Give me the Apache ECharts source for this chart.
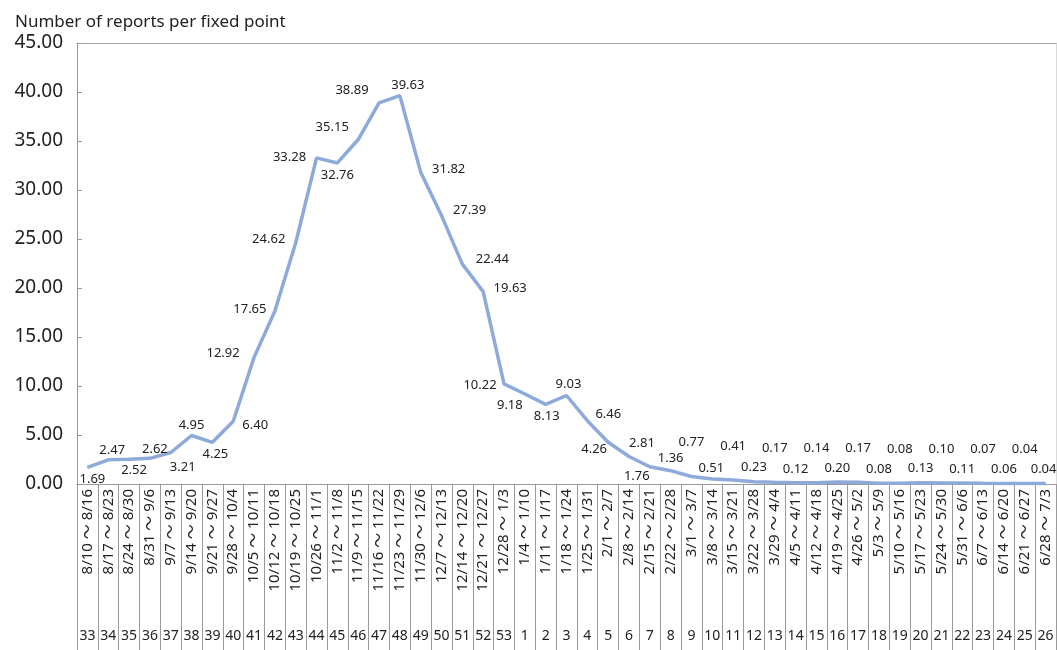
<!DOCTYPE html>
<html>
<head>
<meta charset="utf-8">
<script src="https://cdn.jsdelivr.net/npm/echarts@6/dist/echarts.min.js"></script>
<style>
  html, body { margin: 0; padding: 0; background: #fff; }
  #main { width: 1057px; height: 650px; }
</style>
</head>
<body>
<div id="main"></div>
<script>
// 週の期間（カテゴリ）
var periods = [
  '8/10 ～ 8/16', '8/17 ～ 8/23', '8/24 ～ 8/30', '8/31 ～ 9/6', '9/7 ～ 9/13',
  '9/14 ～ 9/20', '9/21 ～ 9/27', '9/28 ～ 10/4', '10/5 ～ 10/11', '10/12 ～ 10/18',
  '10/19 ～ 10/25', '10/26 ～ 11/1', '11/2 ～ 11/8', '11/9 ～ 11/15', '11/16 ～ 11/22',
  '11/23 ～ 11/29', '11/30 ～ 12/6', '12/7 ～ 12/13', '12/14 ～ 12/20', '12/21 ～ 12/27',
  '12/28 ～ 1/3', '1/4 ～ 1/10', '1/11 ～ 1/17', '1/18 ～ 1/24', '1/25 ～ 1/31',
  '2/1 ～ 2/7', '2/8 ～ 2/14', '2/15 ～ 2/21', '2/22 ～ 2/28', '3/1 ～ 3/7',
  '3/8 ～ 3/14', '3/15 ～ 3/21', '3/22 ～ 3/28', '3/29 ～ 4/4', '4/5 ～ 4/11',
  '4/12 ～ 4/18', '4/19 ～ 4/25', '4/26 ～ 5/2', '5/3 ～ 5/9', '5/10 ～ 5/16',
  '5/17 ～ 5/23', '5/24 ～ 5/30', '5/31 ～ 6/6', '6/7 ～ 6/13', '6/14 ～ 6/20',
  '6/21 ～ 6/27', '6/28 ～ 7/3'
];

// 週番号
var weeks = [
  '33', '34', '35', '36', '37', '38', '39', '40', '41', '42', '43', '44', '45', '46',
  '47', '48', '49', '50', '51', '52', '53', '1', '2', '3', '4', '5', '6', '7', '8',
  '9', '10', '11', '12', '13', '14', '15', '16', '17', '18', '19', '20', '21', '22',
  '23', '24', '25', '26'
];

// 定点当たり報告数
var reports = [
  1.69, 2.47, 2.52, 2.62, 3.21, 4.95, 4.25, 6.40, 12.92, 17.65, 24.62, 33.28, 32.76,
  35.15, 38.89, 39.63, 31.82, 27.39, 22.44, 19.63, 10.22, 9.18, 8.13, 9.03, 6.46,
  4.26, 2.81, 1.76, 1.36, 0.77, 0.51, 0.41, 0.23, 0.17, 0.12, 0.14, 0.20, 0.17,
  0.08, 0.08, 0.13, 0.10, 0.11, 0.07, 0.06, 0.04, 0.04
];

// y軸の目盛
var yMin = 0, yMax = 45, yStep = 5;

// ラベルのずらし量 [dx, dy]（点からの相対）
var labelShift = [
  [5, 12], [4, -9], [5, 11], [5, -9], [12, 15], [0, -10], [3, 12], [22, 4],
  [-31, -4], [-25, -2], [-27, -3], [-27, -1], [0, 12], [-26, -12], [-27, -13], [8, -10],
  [28, -3], [28, -5], [30, -5], [27, -3], [-24, 1], [-15, 11], [1, 12], [2, -11],
  [21, -6], [-14, 7], [13, -13], [-13, 10], [0, -12], [0, -34], [-1, -11]
];
for (var k = labelShift.length; k < reports.length; k++) {
  labelShift.push(k % 2 === 1 ? [0, -34] : [0, -14]);
}
// 右端は少し内側へ
labelShift[reports.length - 1] = [-2, -14];

var FONT = '"Noto Sans", "Noto Sans CJK JP", sans-serif';

var myChart = echarts.init(document.getElementById('main'));

myChart.setOption({
  animation: false,
  textStyle: { fontFamily: FONT },
  title: {
    text: 'Number of reports per fixed point',
    left: 10,
    top: 9,
    textStyle: { fontFamily: FONT, fontSize: 17, fontWeight: 'normal', color: '#222' }
  },
  grid: { left: 77, right: 1, top: 43, bottom: 166 },
  xAxis: [
    {
      type: 'category',
      data: periods,
      position: 'bottom',
      axisLine: { lineStyle: { color: '#9a9a9a', width: 1 } },
      axisTick: { show: true, length: 166, lineStyle: { color: '#9a9a9a' } },
      axisLabel: {
        interval: 0, rotate: 90, margin: 5,
        fontFamily: FONT, fontSize: 15, color: '#222'
      },
      splitLine: { show: false }
    },
    {
      type: 'category',
      data: weeks,
      position: 'bottom',
      axisLine: { show: false },
      axisTick: { show: false },
      axisLabel: { interval: 0, margin: 145, fontFamily: FONT, fontSize: 14, color: '#222' },
      splitLine: { show: false }
    },
    {
      type: 'category',
      data: weeks,
      position: 'top',
      axisLine: { show: true, lineStyle: { color: '#a6a6a6' } },
      axisTick: { show: false },
      axisLabel: { show: false },
      splitLine: { show: false }
    }
  ],
  yAxis: [
    {
      type: 'value',
      min: yMin,
      max: yMax,
      interval: yStep,
      axisLine: { show: true, lineStyle: { color: '#9a9a9a' } },
      axisTick: { show: true, inside: true, length: 5, lineStyle: { color: '#9a9a9a' } },
      axisLabel: {
        margin: 14, fontFamily: FONT, fontSize: 19, color: '#222',
        formatter: function(v) { return v.toFixed(2); }
      },
      splitLine: { show: false }
    },
    {
      type: 'value',
      position: 'right',
      min: yMin,
      max: yMax,
      interval: yStep,
      axisLine: { show: true, lineStyle: { color: '#dadada' } },
      axisTick: { show: false },
      axisLabel: { show: false },
      splitLine: { show: false }
    }
  ],
  series: [{
    type: 'line',
    xAxisIndex: 0,
    yAxisIndex: 0,
    data: reports,
    symbol: 'circle',
    symbolSize: 1,
    showSymbol: true,
    itemStyle: { color: '#8eaadb' },
    lineStyle: { color: '#8eaadb', width: 3.5 },
    label: {
      show: true,
      position: 'inside',
      fontFamily: FONT,
      fontSize: 13,
      color: '#222',
      formatter: function(p) { return p.value.toFixed(2); }
    },
    labelLayout: function(params) {
      var s = labelShift[params.dataIndex];
      return { dx: s[0], dy: s[1], hideOverlap: false };
    }
  }]
});
</script>
</body>
</html>
